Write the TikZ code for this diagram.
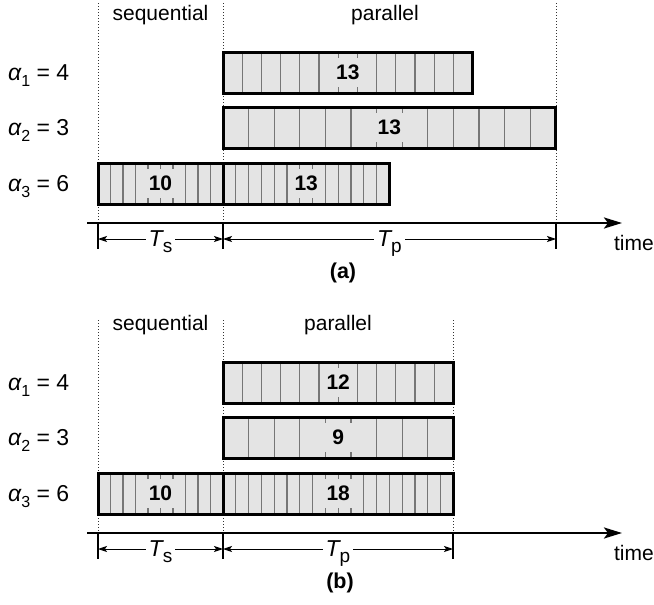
\documentclass[tikz,border=0pt]{standalone}
\usepackage{fontspec}
\setmainfont{Liberation Sans}
\usetikzlibrary{arrows.meta}

\definecolor{barfill}{RGB}{228,228,228}
\definecolor{cellline}{RGB}{118,118,118}

\tikzset{
  outline/.style={line width=3pt, draw=black},
  cell/.style={line width=1.1pt, draw=cellline},
  guide/.style={line width=1pt, draw=black!80, dash pattern=on 1pt off 2pt},
  timeaxis/.style={line width=2.4pt, -{Stealth[length=18pt,width=11pt,inset=4pt]}},
  tickmark/.style={line width=2pt},
  dimline/.style={line width=0.9pt, {Stealth[length=9pt,width=6pt,inset=2pt]}-{Stealth[length=9pt,width=6pt,inset=2pt]}},
  dimlabel/.style={fill=white, inner xsep=3pt, inner ysep=1pt, anchor=base, yshift=-7pt,
    font=\fontsize{23}{26}\selectfont},
  countlabel/.style={fill=barfill, inner sep=0pt, minimum width=37pt, minimum height=29pt,
    font=\bfseries\fontsize{21}{24}\selectfont},
  rowlabel/.style={anchor=base west, inner sep=0pt, font=\fontsize{23}{26}\selectfont},
  phaselabel/.style={anchor=base, inner sep=0pt, font=\fontsize{21}{24}\selectfont},
  caption/.style={anchor=base, inner sep=0pt, font=\bfseries\fontsize{21.5}{24}\selectfont},
}

% alpha_i = value
\newcommand{\alphalab}[2]{{\itshape α}\raisebox{-6pt}{\fontsize{16}{16}\selectfont #1}\ = #2}
% T with an upright subscript
\newcommand{\periodlab}[1]{{\itshape T}\raisebox{-6pt}{\fontsize{19}{19}\selectfont #1}}

% #1 node name, #2 left x, #3 top y, #4 cells, #5 cell width, #6 count
\newcommand{\drawtaskbar}[6]{%
  \pgfmathsetmacro{\barlen}{#4*#5}%
  \pgfmathtruncatemacro{\lastcell}{#4-1}%
  \fill[barfill] (#2,#3) rectangle ++(\barlen,41);
  \foreach \k in {1,...,\lastcell}{\draw[cell] (#2+\k*#5,#3) -- ++(0,41);}
  \node[countlabel] (#1) at (#2+\barlen/2,#3+20.5) {#6};
  \draw[outline] (#2,#3) rectangle ++(\barlen,41);
}

\begin{document}
\begin{tikzpicture}[x=1pt,y=-1pt]
\useasboundingbox (0,0) rectangle (654,605);

% ---------- (a) ----------
\begin{scope}
  \draw[guide] (98,3) -- (98,223);
  \draw[guide] (223,3) -- (223,223);
  \draw[guide] (556,3) -- (556,223);
  \node[phaselabel] (a-seq) at (160.5,20) {sequential};
  \node[phaselabel] (a-par) at (385,20) {parallel};

  \node[rowlabel] (a-r1) at (8,80) {\alphalab{1}{4}};
  \node[rowlabel] (a-r2) at (8,135) {\alphalab{2}{3}};
  \node[rowlabel] (a-r3) at (8,191) {\alphalab{3}{6}};

  \drawtaskbar{a-b1}{223}{52}{13}{19.2}{13}
  \drawtaskbar{a-b2}{223}{107}{13}{25.6}{13}
  \drawtaskbar{a-b3s}{98}{163}{10}{12.5}{10}
  \drawtaskbar{a-b3p}{223}{163}{13}{12.8}{13}

  \coordinate (a-ax0) at (87,223);
  \coordinate (a-ax1) at (622,223);
  \draw[timeaxis] (a-ax0) -- (a-ax1);
  \draw[tickmark] (98,223) -- (98,249);
  \draw[tickmark] (223,223) -- (223,249);
  \draw[tickmark] (556,223) -- (556,249);
  \coordinate (a-d0) at (98,239);
  \coordinate (a-d1) at (223,239);
  \coordinate (a-d2) at (556,239);
  \draw[dimline] (a-d0) -- node[dimlabel] (a-ts) {\periodlab{s}} (a-d1);
  \draw[dimline] (a-d1) -- node[dimlabel] (a-tp) {\periodlab{p}} (a-d2);
  \node[anchor=base east, inner sep=0pt, font=\fontsize{21}{24}\selectfont] (a-time) at (654,250) {time};
  \node[caption] (a-cap) at (343,278) {(a)};
\end{scope}

% ---------- (b) ----------
\begin{scope}[shift={(0,310)}]
  \draw[guide] (98,10) -- (98,223);
  \draw[guide] (223,10) -- (223,223);
  \draw[guide] (453,10) -- (453,223);
  \node[phaselabel] (b-seq) at (160.5,20) {sequential};
  \node[phaselabel] (b-par) at (338,20) {parallel};

  \node[rowlabel] (b-r1) at (8,80) {\alphalab{1}{4}};
  \node[rowlabel] (b-r2) at (8,135) {\alphalab{2}{3}};
  \node[rowlabel] (b-r3) at (8,191) {\alphalab{3}{6}};

  \drawtaskbar{b-b1}{223}{52}{12}{19.2}{12}
  \drawtaskbar{b-b2}{223}{107}{9}{25.6}{9}
  \drawtaskbar{b-b3s}{98}{163}{10}{12.5}{10}
  \drawtaskbar{b-b3p}{223}{163}{18}{12.8}{18}

  \coordinate (b-ax0) at (87,223);
  \coordinate (b-ax1) at (622,223);
  \draw[timeaxis] (b-ax0) -- (b-ax1);
  \draw[tickmark] (98,223) -- (98,249);
  \draw[tickmark] (223,223) -- (223,249);
  \draw[tickmark] (453,223) -- (453,249);
  \coordinate (b-d0) at (98,239);
  \coordinate (b-d1) at (223,239);
  \coordinate (b-d2) at (453,239);
  \draw[dimline] (b-d0) -- node[dimlabel] (b-ts) {\periodlab{s}} (b-d1);
  \draw[dimline] (b-d1) -- node[dimlabel] (b-tp) {\periodlab{p}} (b-d2);
  \node[anchor=base east, inner sep=0pt, font=\fontsize{21}{24}\selectfont] (b-time) at (654,250) {time};
  \node[caption] (b-cap) at (340,278) {(b)};
\end{scope}
\end{tikzpicture}
\end{document}
